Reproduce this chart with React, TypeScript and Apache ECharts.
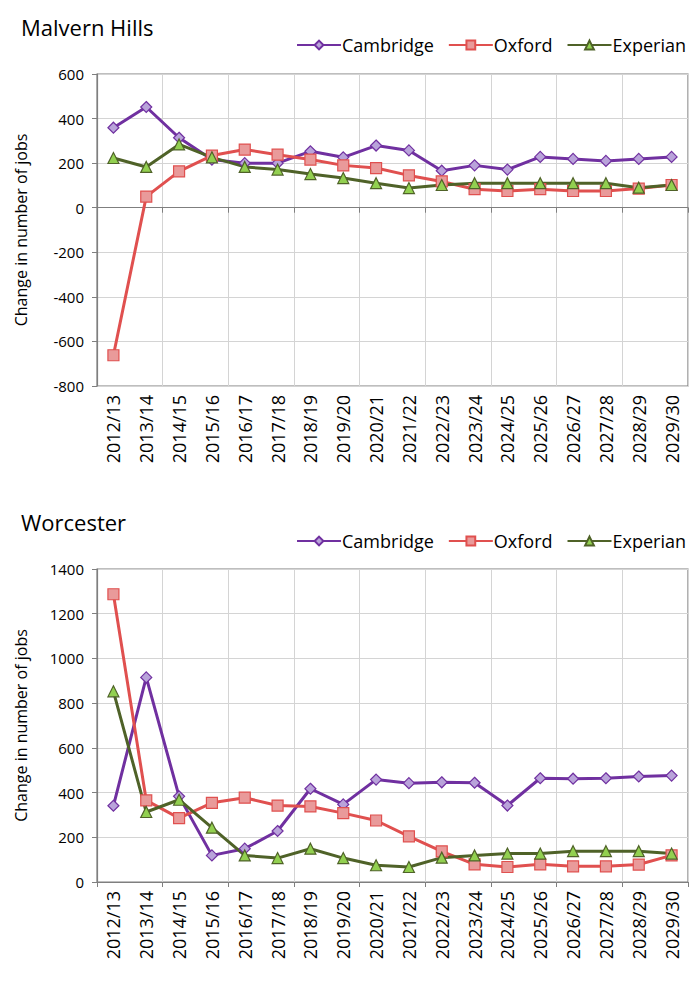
import React, { useEffect, useRef } from "react";
import * as echarts from "echarts";

const categories = ["2012/13","2013/14","2014/15","2015/16","2016/17","2017/18","2018/19","2019/20","2020/21","2021/22","2022/23","2023/24","2024/25","2025/26","2026/27","2027/28","2028/29","2029/30"];

const malvernCambridge = [359,452,314,216,200,200,253,226,279,257,166,190,171,228,219,210,219,228];
const malvernOxford = [-662,50,163,234,261,238,216,190,178,145,118,83,75,83,75,75,86,102];
const malvernExperian = [223,183,284,226,183,171,151,133,110,88,102,110,110,110,110,110,90,102];

const worcesterCambridge = [341,915,383,119,149,228,417,347,458,442,446,444,342,464,462,464,472,476];
const worcesterOxford = [1287,365,286,354,377,342,338,308,275,204,137,79,67,79,70,70,78,119];
const worcesterExperian = [853,313,368,243,119,107,149,107,75,67,109,119,127,127,138,138,138,127];

const FONT = "Open Sans";

const styles = {
  Cambridge: { line: "#7030A0", fill: "#B9A3DA", symbol: "diamond", size: 11 },
  Oxford: { line: "#E0504F", fill: "#E99A9A", symbol: "rect", size: 11 },
  Experian: { line: "#4F6228", fill: "#92D050", symbol: "triangle", size: 11 },
};

function mkSeries(name: keyof typeof styles, data: number[], idx: number) {
  const s = styles[name];
  return {
    name,
    type: "line",
    xAxisIndex: idx * 2,
    yAxisIndex: idx,
    data,
    symbol: s.symbol,
    symbolSize: s.size,
    lineStyle: { color: s.line, width: 3 },
    itemStyle: { color: s.fill, borderColor: s.line, borderWidth: 1.2 },
  };
}

export default function App() {
  const ref = useRef<HTMLDivElement>(null);
  useEffect(() => {
    document.body.style.margin = "0";
    const chart = echarts.init(ref.current!, null, { renderer: "svg" });
    const grids = [
      { left: 97, top: 74, width: 591, height: 312 },
      { left: 97, top: 569, width: 591, height: 313 },
    ];
    const yRanges = [
      { min: -800, max: 600 },
      { min: 0, max: 1400 },
    ];
    const xAxes: any[] = [];
    const yAxes: any[] = [];
    grids.forEach((_, i) => {
      xAxes.push({
        type: "category",
        gridIndex: i,
        data: categories,
        boundaryGap: true,
        axisLine: { onZero: true, lineStyle: { color: "#7f7f7f", width: 1.2 } },
        axisTick: { show: true, length: 5, lineStyle: { color: "#7f7f7f" } },
        axisLabel: { show: false },
        splitLine: { show: true, lineStyle: { color: "#d4d4d4", width: 1 } },
      });
      xAxes.push({
        type: "category",
        gridIndex: i,
        data: categories,
        boundaryGap: true,
        position: "bottom",
        axisLine: { show: false, onZero: false },
        axisTick: { show: false },
        splitLine: { show: false },
        axisLabel: { rotate: 90, fontFamily: FONT, fontSize: 18, color: "#000", margin: 9, interval: 0 },
      });
      yAxes.push({
        type: "value",
        gridIndex: i,
        min: yRanges[i].min,
        max: yRanges[i].max,
        interval: 200,
        name: "Change in number of jobs",
        nameLocation: "middle",
        nameGap: 68,
        nameTextStyle: { fontFamily: FONT, fontSize: 16, color: "#000" },
        axisLine: { show: true, lineStyle: { color: "#7f7f7f", width: 1.2 } },
        axisTick: { show: true, length: 5, lineStyle: { color: "#7f7f7f" } },
        axisLabel: { fontFamily: FONT, fontSize: 15, color: "#000", margin: 13, formatter: (v: number) => String(v) },
        splitLine: { show: true, lineStyle: { color: "#d4d4d4", width: 1 } },
      });
    });
    const legendCommon = {
      right: 2,
      orient: "horizontal",
      itemWidth: 44,
      itemHeight: 11,
      itemGap: 14,
      textStyle: { fontFamily: FONT, fontSize: 18, color: "#000", padding: [0, 0, 0, -4] },
      data: ["Cambridge", "Oxford", "Experian"],
    };
    chart.setOption({
      animation: false,
      backgroundColor: "#fff",
      title: [
        { text: "Malvern Hills", left: 16, top: 11, textStyle: { fontFamily: FONT, fontSize: 22, fontWeight: "normal", color: "#000" } },
        { text: "Worcester", left: 16, top: 506, textStyle: { fontFamily: FONT, fontSize: 22, fontWeight: "normal", color: "#000" } },
      ],
      legend: [
        { ...legendCommon, top: 31 },
        { ...legendCommon, top: 527 },
      ],
      grid: grids.map((g) => ({ ...g, show: true, borderColor: "#7f7f7f", borderWidth: 1.2, backgroundColor: "transparent" })),
      xAxis: xAxes,
      yAxis: yAxes,
      series: [
        mkSeries("Cambridge", malvernCambridge, 0),
        mkSeries("Oxford", malvernOxford, 0),
        mkSeries("Experian", malvernExperian, 0),
        mkSeries("Cambridge", worcesterCambridge, 1),
        mkSeries("Oxford", worcesterOxford, 1),
        mkSeries("Experian", worcesterExperian, 1),
      ],
    });
    return () => chart.dispose();
  }, []);
  return <div ref={ref} style={{ width: 693, height: 983 }} />;
}
